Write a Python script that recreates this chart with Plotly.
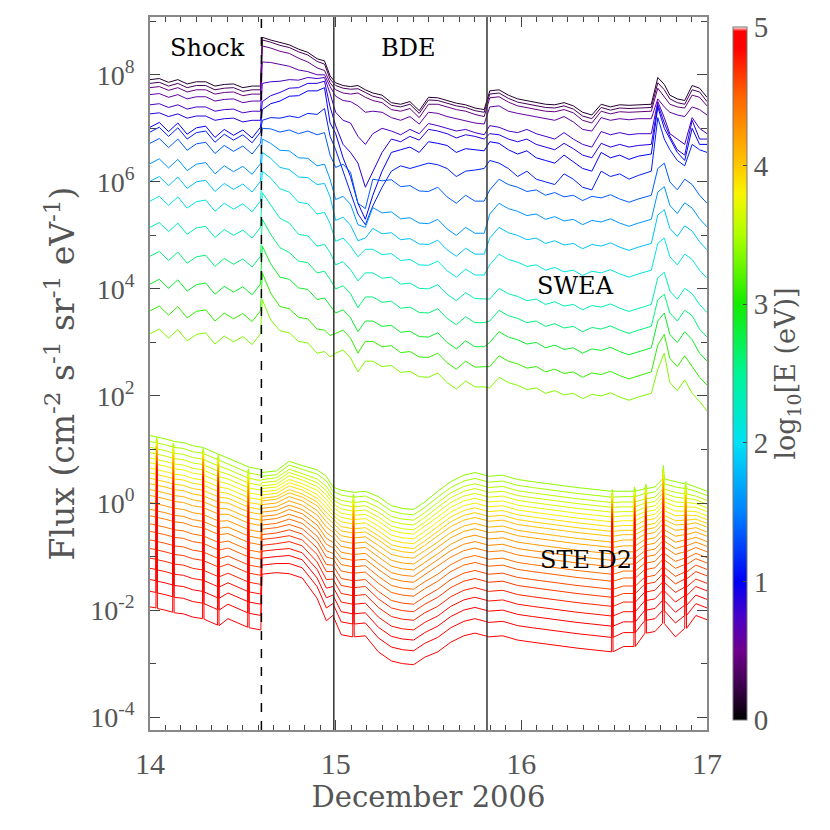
import plotly.graph_objects as go
from plotly.colors import sample_colorscale

# ---------------- SWEA (log10 flux) ----------------
swea_time = [14.00, 14.05, 14.10, 14.15, 14.20, 14.25, 14.30, 14.35, 14.40, 14.45, 14.50, 14.55, 14.595,
             14.605, 14.65, 14.70, 14.75, 14.80, 14.85, 14.90, 14.94, 14.97,
             15.00, 15.04, 15.08, 15.12, 15.16, 15.20, 15.25, 15.30, 15.35, 15.40, 15.45, 15.50, 15.55, 15.60, 15.65, 15.70, 15.75, 15.80,
             15.83, 15.88, 15.93, 15.98, 16.03, 16.08, 16.13, 16.18, 16.23, 16.28, 16.33, 16.38, 16.43, 16.48, 16.53, 16.58, 16.63, 16.70,
             16.735, 16.77, 16.80, 16.84, 16.88, 16.92, 16.96, 17.00]

swea_energy_log = [0.15, 0.30, 0.45, 0.60, 0.75, 0.88, 1.00, 1.12, 1.35, 1.60, 1.85, 2.10, 2.35, 2.60, 2.85, 3.10, 3.35]

swea_log_flux = [
    [7.91, 7.93, 7.86, 7.91, 7.83, 7.87, 7.87, 7.79, 7.82, 7.83, 7.76, 7.79, 7.79,
     8.70, 8.65, 8.60, 8.56, 8.48, 8.42, 8.30, 8.26, 7.98,
     7.85, 7.80, 7.78, 7.80, 7.72, 7.66, 7.62, 7.48, 7.45, 7.50, 7.33, 7.58, 7.57, 7.52, 7.47, 7.44, 7.38, 7.35,
     7.70, 7.72, 7.62, 7.55, 7.52, 7.48, 7.45, 7.44, 7.48, 7.42, 7.30, 7.25, 7.45, 7.40, 7.44, 7.43, 7.44, 7.45,
     7.95, 7.82, 7.62, 7.55, 7.52, 7.80, 7.75, 7.58],
    [7.84, 7.86, 7.79, 7.84, 7.76, 7.80, 7.80, 7.72, 7.75, 7.76, 7.69, 7.72, 7.72,
     8.65, 8.61, 8.55, 8.51, 8.43, 8.37, 8.25, 8.20, 7.92,
     7.80, 7.75, 7.73, 7.74, 7.67, 7.60, 7.56, 7.43, 7.40, 7.45, 7.28, 7.53, 7.52, 7.47, 7.42, 7.39, 7.33, 7.30,
     7.64, 7.66, 7.56, 7.49, 7.46, 7.42, 7.39, 7.38, 7.42, 7.36, 7.23, 7.18, 7.39, 7.34, 7.38, 7.37, 7.38, 7.39,
     7.85, 7.72, 7.55, 7.48, 7.45, 7.72, 7.68, 7.50],
    [7.76, 7.78, 7.71, 7.76, 7.68, 7.72, 7.72, 7.64, 7.67, 7.68, 7.61, 7.64, 7.64,
     8.54, 8.50, 8.44, 8.40, 8.31, 8.24, 8.13, 8.08, 7.85,
     7.72, 7.66, 7.64, 7.66, 7.58, 7.52, 7.48, 7.35, 7.32, 7.37, 7.20, 7.45, 7.45, 7.40, 7.35, 7.32, 7.26, 7.22,
     7.57, 7.59, 7.49, 7.42, 7.39, 7.35, 7.32, 7.31, 7.35, 7.29, 7.15, 7.10, 7.32, 7.27, 7.31, 7.30, 7.31, 7.32,
     7.75, 7.60, 7.45, 7.40, 7.38, 7.62, 7.58, 7.42],
    [7.63, 7.65, 7.58, 7.63, 7.55, 7.59, 7.59, 7.51, 7.54, 7.55, 7.48, 7.51, 7.51,
     8.24, 8.23, 8.19, 8.16, 8.09, 8.06, 8.00, 8.00, 7.78,
     7.60, 7.52, 7.50, 7.42, 7.30, 7.32, 7.30, 7.20, 7.15, 7.22, 7.08, 7.30, 7.28, 7.22, 7.18, 7.15, 7.10, 7.08,
     7.40, 7.42, 7.32, 7.28, 7.25, 7.22, 7.18, 7.15, 7.22, 7.12, 6.98, 6.95, 7.20, 7.15, 7.18, 7.16, 7.18, 7.18,
     7.55, 7.40, 7.30, 7.25, 7.22, 7.40, 7.35, 7.25],
    [7.44, 7.46, 7.39, 7.44, 7.36, 7.40, 7.40, 7.32, 7.35, 7.36, 7.29, 7.32, 7.32,
     7.84, 7.87, 7.88, 7.91, 7.90, 7.95, 7.93, 7.95, 7.65,
     7.30, 7.15, 7.10, 6.85, 6.70, 6.90, 7.00, 6.95, 6.88, 6.98, 6.90, 7.09, 7.05, 7.00, 6.95, 6.98, 6.92, 6.88,
     7.05, 7.02, 6.95, 6.92, 6.98, 6.90, 6.85, 6.80, 6.92, 6.80, 6.70, 6.65, 6.94, 6.88, 6.92, 6.88, 6.90, 6.90,
     7.50, 7.20, 6.90, 6.80, 6.70, 7.20, 7.00, 6.90],
    [7.27, 7.29, 7.22, 7.27, 7.19, 7.23, 7.23, 7.15, 7.18, 7.19, 7.12, 7.15, 7.15,
     7.50, 7.61, 7.67, 7.75, 7.76, 7.84, 7.84, 7.88, 7.40,
     7.05, 6.70, 6.55, 6.35, 5.90, 6.20, 6.55, 6.80, 6.75, 6.85, 6.78, 6.98, 6.95, 6.90, 6.82, 6.88, 6.85, 6.80,
     6.90, 6.88, 6.80, 6.75, 6.80, 6.70, 6.65, 6.60, 6.72, 6.62, 6.50, 6.45, 6.72, 6.65, 6.70, 6.65, 6.68, 6.70,
     7.45, 7.10, 6.85, 6.60, 6.50, 7.15, 6.80, 6.80],
    [7.02, 7.11, 6.94, 7.10, 6.89, 7.01, 7.04, 6.83, 6.98, 6.87, 6.97, 6.82, 7.02,
     7.35, 7.46, 7.51, 7.60, 7.61, 7.70, 7.70, 7.76, 7.10,
     6.90, 6.45, 6.10, 5.60, 5.30, 5.75, 6.20, 6.55, 6.60, 6.65, 6.55, 6.75, 6.72, 6.68, 6.55, 6.62, 6.60, 6.58,
     6.75, 6.72, 6.60, 6.52, 6.58, 6.45, 6.40, 6.35, 6.50, 6.38, 6.25, 6.20, 6.55, 6.45, 6.50, 6.42, 6.48, 6.52,
     7.40, 7.00, 6.80, 6.55, 6.40, 7.00, 6.70, 6.70],
    [6.93, 7.02, 6.85, 7.01, 6.80, 6.92, 6.95, 6.74, 6.89, 6.78, 6.88, 6.73, 6.93,
     7.15, 7.20, 7.19, 7.23, 7.20, 7.28, 7.26, 7.37, 6.85,
     6.60, 6.20, 5.80, 5.40, 5.20, 5.55, 5.90, 6.20, 6.30, 6.25, 6.30, 6.35, 6.32, 6.25, 6.10, 6.20, 6.22, 6.25,
     6.40, 6.35, 6.25, 6.10, 6.20, 6.05, 6.00, 5.95, 6.15, 6.05, 5.90, 5.85, 6.20, 6.10, 6.15, 6.05, 6.12, 6.20,
     7.20, 6.80, 6.60, 6.40, 6.30, 6.70, 6.60, 6.55],
    [6.72, 6.81, 6.64, 6.80, 6.59, 6.71, 6.74, 6.53, 6.68, 6.57, 6.67, 6.52, 6.72,
     7.00, 6.99, 6.93, 6.97, 6.90, 6.95, 6.88, 6.92, 6.50,
     6.27, 6.33, 6.18, 5.60, 5.50, 6.05, 6.02, 6.04, 5.91, 5.93, 5.83, 5.82, 5.90, 5.72, 5.60, 5.75, 5.64, 5.64,
     5.85, 6.05, 5.95, 5.90, 5.82, 5.85, 5.75, 5.80, 5.72, 5.75, 5.65, 5.73, 5.70, 5.76, 5.68, 5.62, 5.68, 5.75,
     6.25, 6.35, 6.00, 5.85, 6.05, 5.95, 5.75, 5.60],
    [6.34, 6.43, 6.26, 6.42, 6.21, 6.33, 6.36, 6.15, 6.30, 6.19, 6.29, 6.14, 6.34,
     6.80, 6.72, 6.59, 6.58, 6.45, 6.44, 6.30, 6.33, 6.05,
     5.67, 5.73, 5.58, 5.20, 5.15, 5.52, 5.42, 5.44, 5.31, 5.33, 5.23, 5.22, 5.30, 5.12, 5.00, 5.15, 5.04, 5.04,
     5.40, 5.60, 5.50, 5.45, 5.37, 5.40, 5.30, 5.35, 5.27, 5.30, 5.20, 5.28, 5.25, 5.31, 5.23, 5.17, 5.23, 5.30,
     5.81, 5.91, 5.56, 5.41, 5.61, 5.51, 5.31, 5.16],
    [6.01, 6.10, 5.93, 6.09, 5.88, 6.00, 6.03, 5.82, 5.97, 5.86, 5.96, 5.81, 6.01,
     6.55, 6.44, 6.27, 6.23, 6.09, 6.08, 5.95, 5.97, 5.72,
     5.28, 5.34, 5.19, 4.90, 4.95, 5.13, 5.03, 5.05, 4.92, 4.94, 4.84, 4.83, 4.91, 4.73, 4.61, 4.76, 4.65, 4.65,
     4.95, 5.15, 5.05, 5.00, 4.92, 4.95, 4.85, 4.90, 4.82, 4.85, 4.75, 4.83, 4.80, 4.86, 4.78, 4.72, 4.78, 4.85,
     5.38, 5.48, 5.13, 4.98, 5.18, 5.08, 4.88, 4.73],
    [5.64, 5.73, 5.56, 5.72, 5.51, 5.63, 5.66, 5.45, 5.60, 5.49, 5.59, 5.44, 5.64,
     6.20, 6.07, 5.87, 5.81, 5.62, 5.59, 5.40, 5.43, 5.22,
     4.89, 4.95, 4.80, 4.60, 4.74, 4.74, 4.64, 4.66, 4.53, 4.55, 4.45, 4.44, 4.52, 4.34, 4.22, 4.37, 4.26, 4.26,
     4.45, 4.65, 4.55, 4.50, 4.42, 4.45, 4.35, 4.40, 4.32, 4.35, 4.25, 4.33, 4.30, 4.36, 4.28, 4.22, 4.28, 4.35,
     4.85, 4.95, 4.60, 4.45, 4.65, 4.55, 4.35, 4.20],
    [5.15, 5.24, 5.07, 5.23, 5.02, 5.14, 5.17, 4.96, 5.11, 5.00, 5.10, 4.95, 5.15,
     5.80, 5.57, 5.32, 5.23, 5.02, 4.99, 4.80, 4.83, 4.68,
     4.45, 4.51, 4.36, 4.15, 4.30, 4.30, 4.20, 4.22, 4.09, 4.11, 4.01, 4.00, 4.08, 3.90, 3.78, 3.93, 3.82, 3.82,
     3.81, 4.01, 3.91, 3.86, 3.78, 3.81, 3.71, 3.76, 3.68, 3.71, 3.61, 3.69, 3.66, 3.72, 3.64, 3.58, 3.64, 3.71,
     4.21, 4.31, 3.96, 3.81, 4.01, 3.91, 3.71, 3.56],
    [4.61, 4.70, 4.53, 4.69, 4.48, 4.60, 4.63, 4.42, 4.57, 4.46, 4.56, 4.41, 4.61,
     5.30, 5.02, 4.77, 4.68, 4.52, 4.49, 4.30, 4.33, 4.18,
     4.00, 4.06, 3.91, 3.65, 3.85, 3.85, 3.75, 3.77, 3.64, 3.66, 3.56, 3.55, 3.63, 3.45, 3.33, 3.48, 3.37, 3.37,
     3.40, 3.60, 3.50, 3.45, 3.37, 3.40, 3.30, 3.35, 3.27, 3.30, 3.20, 3.28, 3.25, 3.31, 3.23, 3.17, 3.23, 3.30,
     3.80, 3.90, 3.55, 3.40, 3.60, 3.50, 3.25, 3.10],
    [4.09, 4.18, 4.01, 4.17, 3.96, 4.08, 4.11, 3.90, 4.05, 3.94, 4.04, 3.89, 4.09,
     4.80, 4.47, 4.22, 4.18, 4.02, 3.99, 3.80, 3.83, 3.68,
     3.55, 3.61, 3.46, 3.20, 3.40, 3.40, 3.30, 3.32, 3.19, 3.21, 3.11, 3.10, 3.18, 3.00, 2.88, 3.03, 2.92, 2.92,
     3.00, 3.20, 3.10, 3.05, 2.97, 3.00, 2.90, 2.95, 2.87, 2.90, 2.80, 2.88, 2.85, 2.91, 2.83, 2.77, 2.83, 2.90,
     3.40, 3.55, 3.15, 3.00, 3.20, 3.05, 2.80, 2.65],
    [3.59, 3.68, 3.51, 3.67, 3.46, 3.58, 3.61, 3.40, 3.55, 3.44, 3.54, 3.39, 3.59,
     4.30, 3.92, 3.67, 3.63, 3.47, 3.44, 3.25, 3.23, 3.13,
     3.17, 3.23, 3.08, 2.80, 3.02, 3.02, 2.92, 2.94, 2.81, 2.83, 2.73, 2.72, 2.80, 2.62, 2.50, 2.65, 2.54, 2.54,
     2.55, 2.75, 2.65, 2.60, 2.52, 2.55, 2.45, 2.50, 2.42, 2.45, 2.35, 2.43, 2.40, 2.46, 2.38, 2.32, 2.38, 2.45,
     2.95, 3.15, 2.70, 2.55, 2.75, 2.55, 2.35, 2.20],
    [3.16, 3.25, 3.08, 3.24, 3.03, 3.15, 3.18, 2.97, 3.12, 3.01, 3.11, 2.96, 3.16,
     3.80, 3.42, 3.22, 3.18, 3.02, 2.99, 2.80, 2.83, 2.73,
     2.80, 2.86, 2.71, 2.45, 2.65, 2.65, 2.55, 2.57, 2.44, 2.46, 2.36, 2.35, 2.43, 2.25, 2.13, 2.28, 2.17, 2.17,
     2.15, 2.35, 2.25, 2.20, 2.12, 2.15, 2.05, 2.10, 2.02, 2.05, 1.95, 2.03, 2.00, 2.06, 1.98, 1.92, 1.98, 2.05,
     2.50, 2.80, 2.25, 2.10, 2.30, 2.05, 1.90, 1.72],
]

# ---------------- STE D2 (log10 flux, one row per time) ----------------
ste_time = [14.000, 14.032, 14.036, 14.040, 14.080, 14.122, 14.126, 14.130, 14.180, 14.230, 14.283, 14.287,
            14.291, 14.330, 14.364, 14.368, 14.372, 14.420, 14.470, 14.526, 14.530, 14.534, 14.597,
            14.603, 14.680, 14.750, 14.820, 14.900, 14.950, 14.985,
            15.030, 15.092, 15.096, 15.100, 15.160, 15.230, 15.300, 15.360, 15.420, 15.480, 15.550, 15.620,
            15.690, 15.750, 15.805,
            15.825, 15.900, 15.980, 16.060, 16.140, 16.220, 16.300, 16.380, 16.486, 16.490, 16.494, 16.550,
            16.606, 16.610, 16.614, 16.666, 16.670, 16.674, 16.720,
            16.760, 16.765, 16.770, 16.830, 16.880, 16.885, 16.890, 16.940, 17.000]

ste_energy_log = [3.40, 3.47, 3.54, 3.61, 3.68, 3.75, 3.82, 3.89, 3.96, 4.03, 4.10, 4.17,
                  4.24, 4.31, 4.38, 4.45, 4.52, 4.59, 4.66, 4.73, 4.80, 4.86, 4.91, 4.96]

ste_log_flux_by_time = [
    [1.26, 1.15, 1.04, 0.94, 0.84, 0.75, 0.65, 0.56, 0.46, 0.36, 0.25, 0.14, 0.01, -0.12, -0.24, -0.39, -0.53, -0.69, -0.85, -1.03, -1.22, -1.43, -1.65, -1.94],
    [1.24, 1.13, 1.02, 0.92, 0.82, 0.73, 0.63, 0.54, 0.44, 0.34, 0.23, 0.12, -0.01, -0.14, -0.26, -0.41, -0.55, -0.71, -0.87, -1.05, -1.24, -1.45, -1.67, -1.96],
    [1.24, 1.22, 1.19, 1.17, 1.15, 1.13, 1.11, 1.09, 1.06, 1.04, 1.02, 0.99, 0.97, 0.94, 0.91, 0.88, 0.85, 0.81, 0.78, 0.74, 0.70, 0.65, 0.60, 0.54],
    [1.23, 1.12, 1.01, 0.91, 0.81, 0.72, 0.62, 0.53, 0.43, 0.33, 0.22, 0.11, -0.02, -0.15, -0.27, -0.42, -0.56, -0.72, -0.88, -1.06, -1.25, -1.46, -1.68, -1.97],
    [1.20, 1.09, 0.98, 0.88, 0.78, 0.69, 0.59, 0.50, 0.40, 0.30, 0.19, 0.08, -0.05, -0.18, -0.30, -0.45, -0.59, -0.75, -0.91, -1.09, -1.28, -1.49, -1.71, -2.00],
    [1.16, 1.05, 0.94, 0.84, 0.74, 0.65, 0.55, 0.46, 0.36, 0.26, 0.15, 0.04, -0.09, -0.22, -0.34, -0.49, -0.63, -0.79, -0.95, -1.13, -1.32, -1.53, -1.75, -2.04],
    [1.16, 1.12, 1.09, 1.06, 1.03, 1.00, 0.97, 0.94, 0.91, 0.88, 0.84, 0.81, 0.77, 0.73, 0.69, 0.64, 0.60, 0.55, 0.50, 0.44, 0.38, 0.32, 0.25, 0.16],
    [1.15, 1.04, 0.93, 0.83, 0.73, 0.64, 0.54, 0.45, 0.35, 0.25, 0.14, 0.03, -0.10, -0.23, -0.35, -0.50, -0.64, -0.80, -0.96, -1.14, -1.33, -1.54, -1.76, -2.05],
    [1.13, 1.02, 0.91, 0.81, 0.71, 0.62, 0.52, 0.43, 0.33, 0.23, 0.12, 0.01, -0.12, -0.25, -0.37, -0.52, -0.66, -0.82, -0.98, -1.16, -1.35, -1.56, -1.78, -2.07],
    [1.07, 0.96, 0.85, 0.75, 0.65, 0.56, 0.46, 0.37, 0.27, 0.17, 0.06, -0.05, -0.18, -0.31, -0.43, -0.58, -0.72, -0.88, -1.04, -1.22, -1.41, -1.62, -1.84, -2.13],
    [1.04, 0.93, 0.82, 0.72, 0.62, 0.53, 0.43, 0.34, 0.24, 0.14, 0.03, -0.08, -0.21, -0.34, -0.46, -0.61, -0.75, -0.91, -1.07, -1.25, -1.44, -1.65, -1.87, -2.16],
    [1.04, 1.02, 0.99, 0.97, 0.95, 0.93, 0.91, 0.89, 0.86, 0.84, 0.82, 0.79, 0.77, 0.74, 0.71, 0.68, 0.65, 0.61, 0.58, 0.54, 0.50, 0.45, 0.40, 0.34],
    [1.03, 0.92, 0.81, 0.71, 0.61, 0.52, 0.42, 0.33, 0.23, 0.13, 0.02, -0.09, -0.22, -0.35, -0.47, -0.62, -0.76, -0.92, -1.08, -1.26, -1.45, -1.66, -1.88, -2.17],
    [0.97, 0.86, 0.75, 0.65, 0.55, 0.46, 0.36, 0.27, 0.17, 0.07, -0.04, -0.15, -0.28, -0.41, -0.53, -0.68, -0.82, -0.98, -1.14, -1.32, -1.51, -1.72, -1.94, -2.23],
    [0.92, 0.81, 0.70, 0.60, 0.50, 0.41, 0.31, 0.22, 0.12, 0.02, -0.09, -0.20, -0.33, -0.46, -0.58, -0.73, -0.87, -1.03, -1.19, -1.37, -1.56, -1.77, -1.99, -2.28],
    [0.92, 0.90, 0.87, 0.85, 0.83, 0.81, 0.79, 0.77, 0.74, 0.72, 0.70, 0.67, 0.65, 0.62, 0.59, 0.56, 0.53, 0.49, 0.46, 0.42, 0.38, 0.33, 0.28, 0.22],
    [0.91, 0.80, 0.69, 0.59, 0.49, 0.40, 0.30, 0.21, 0.11, 0.01, -0.10, -0.21, -0.34, -0.47, -0.59, -0.74, -0.88, -1.04, -1.20, -1.38, -1.57, -1.78, -2.00, -2.29],
    [0.84, 0.73, 0.63, 0.54, 0.45, 0.36, 0.27, 0.18, 0.09, 0.00, -0.11, -0.21, -0.33, -0.45, -0.57, -0.71, -0.84, -0.99, -1.14, -1.31, -1.49, -1.68, -1.89, -2.16],
    [0.76, 0.65, 0.55, 0.46, 0.37, 0.28, 0.19, 0.10, 0.01, -0.08, -0.19, -0.29, -0.41, -0.53, -0.65, -0.79, -0.92, -1.07, -1.22, -1.39, -1.57, -1.76, -1.97, -2.24],
    [0.68, 0.57, 0.47, 0.38, 0.29, 0.20, 0.11, 0.02, -0.07, -0.16, -0.27, -0.37, -0.49, -0.61, -0.73, -0.87, -1.00, -1.15, -1.30, -1.47, -1.65, -1.84, -2.05, -2.32],
    [0.68, 0.64, 0.61, 0.58, 0.55, 0.52, 0.49, 0.46, 0.43, 0.40, 0.36, 0.33, 0.29, 0.25, 0.21, 0.16, 0.12, 0.07, 0.02, -0.04, -0.10, -0.16, -0.23, -0.32],
    [0.67, 0.56, 0.46, 0.37, 0.28, 0.19, 0.10, 0.01, -0.08, -0.17, -0.28, -0.38, -0.50, -0.62, -0.74, -0.88, -1.01, -1.16, -1.31, -1.48, -1.66, -1.85, -2.06, -2.33],
    [0.63, 0.52, 0.42, 0.33, 0.24, 0.15, 0.06, -0.03, -0.12, -0.21, -0.32, -0.42, -0.54, -0.66, -0.78, -0.92, -1.05, -1.20, -1.35, -1.52, -1.70, -1.89, -2.10, -2.37],
    [0.57, 0.50, 0.44, 0.38, 0.32, 0.27, 0.21, 0.15, 0.09, 0.04, -0.03, -0.10, -0.17, -0.25, -0.32, -0.41, -0.49, -0.59, -0.68, -0.79, -0.90, -1.03, -1.16, -1.33],
    [0.60, 0.53, 0.47, 0.41, 0.35, 0.30, 0.24, 0.18, 0.12, 0.07, 0.00, -0.07, -0.14, -0.22, -0.29, -0.38, -0.46, -0.56, -0.65, -0.76, -0.87, -1.00, -1.13, -1.30],
    [0.78, 0.71, 0.63, 0.57, 0.51, 0.44, 0.38, 0.32, 0.25, 0.19, 0.12, 0.04, -0.04, -0.12, -0.21, -0.30, -0.40, -0.50, -0.61, -0.72, -0.85, -0.98, -1.13, -1.32],
    [0.70, 0.63, 0.55, 0.49, 0.43, 0.36, 0.30, 0.24, 0.17, 0.11, 0.04, -0.04, -0.12, -0.20, -0.29, -0.38, -0.48, -0.58, -0.69, -0.80, -0.93, -1.06, -1.21, -1.40],
    [0.62, 0.54, 0.45, 0.38, 0.31, 0.24, 0.16, 0.09, 0.02, -0.05, -0.14, -0.22, -0.32, -0.41, -0.51, -0.62, -0.72, -0.84, -0.96, -1.10, -1.24, -1.40, -1.56, -1.78],
    [0.50, 0.41, 0.31, 0.23, 0.15, 0.07, -0.01, -0.09, -0.18, -0.26, -0.35, -0.45, -0.55, -0.66, -0.77, -0.89, -1.01, -1.15, -1.28, -1.43, -1.59, -1.77, -1.96, -2.20],
    [0.30, 0.22, 0.13, 0.06, -0.01, -0.08, -0.16, -0.23, -0.30, -0.37, -0.46, -0.54, -0.64, -0.73, -0.83, -0.94, -1.04, -1.16, -1.28, -1.42, -1.56, -1.72, -1.88, -2.10],
    [0.24, 0.15, 0.05, -0.03, -0.11, -0.19, -0.27, -0.35, -0.44, -0.52, -0.61, -0.71, -0.81, -0.92, -1.03, -1.15, -1.27, -1.41, -1.54, -1.69, -1.85, -2.03, -2.22, -2.46],
    [0.20, 0.11, 0.01, -0.07, -0.15, -0.23, -0.31, -0.39, -0.48, -0.56, -0.65, -0.75, -0.85, -0.96, -1.07, -1.19, -1.31, -1.45, -1.58, -1.73, -1.89, -2.07, -2.26, -2.50],
    [0.20, 0.16, 0.13, 0.10, 0.07, 0.04, 0.01, -0.02, -0.05, -0.08, -0.12, -0.15, -0.19, -0.23, -0.27, -0.32, -0.36, -0.41, -0.46, -0.52, -0.58, -0.64, -0.71, -0.80],
    [0.20, 0.11, 0.01, -0.07, -0.15, -0.23, -0.31, -0.39, -0.48, -0.56, -0.65, -0.75, -0.85, -0.96, -1.07, -1.19, -1.31, -1.45, -1.58, -1.73, -1.89, -2.07, -2.26, -2.50],
    [0.22, 0.13, 0.03, -0.05, -0.13, -0.21, -0.29, -0.37, -0.46, -0.54, -0.63, -0.73, -0.83, -0.94, -1.05, -1.17, -1.29, -1.43, -1.56, -1.71, -1.87, -2.05, -2.24, -2.48],
    [0.12, 0.02, -0.08, -0.17, -0.26, -0.34, -0.43, -0.52, -0.61, -0.69, -0.79, -0.90, -1.01, -1.13, -1.24, -1.37, -1.50, -1.65, -1.79, -1.95, -2.13, -2.32, -2.52, -2.78],
    [-0.05, -0.15, -0.25, -0.34, -0.43, -0.51, -0.60, -0.69, -0.78, -0.86, -0.96, -1.07, -1.18, -1.30, -1.41, -1.54, -1.67, -1.82, -1.96, -2.12, -2.30, -2.49, -2.69, -2.95],
    [-0.10, -0.20, -0.30, -0.39, -0.48, -0.56, -0.65, -0.74, -0.83, -0.91, -1.01, -1.12, -1.23, -1.35, -1.46, -1.59, -1.72, -1.87, -2.01, -2.17, -2.35, -2.54, -2.74, -3.00],
    [-0.12, -0.22, -0.32, -0.41, -0.50, -0.58, -0.67, -0.76, -0.85, -0.93, -1.03, -1.14, -1.25, -1.37, -1.48, -1.61, -1.74, -1.89, -2.03, -2.19, -2.37, -2.56, -2.76, -3.02],
    [0.02, -0.08, -0.18, -0.27, -0.36, -0.44, -0.53, -0.62, -0.71, -0.79, -0.89, -1.00, -1.11, -1.23, -1.34, -1.47, -1.60, -1.75, -1.89, -2.05, -2.23, -2.42, -2.62, -2.88],
    [0.22, 0.11, 0.01, -0.08, -0.17, -0.26, -0.35, -0.44, -0.53, -0.62, -0.73, -0.83, -0.95, -1.07, -1.19, -1.33, -1.46, -1.61, -1.76, -1.93, -2.11, -2.30, -2.51, -2.78],
    [0.40, 0.29, 0.19, 0.10, 0.01, -0.08, -0.17, -0.26, -0.35, -0.44, -0.55, -0.65, -0.77, -0.89, -1.01, -1.15, -1.28, -1.43, -1.58, -1.75, -1.93, -2.12, -2.33, -2.60],
    [0.52, 0.41, 0.31, 0.22, 0.13, 0.04, -0.05, -0.14, -0.23, -0.32, -0.43, -0.53, -0.65, -0.77, -0.89, -1.03, -1.16, -1.31, -1.46, -1.63, -1.81, -2.00, -2.21, -2.48],
    [0.57, 0.46, 0.36, 0.27, 0.18, 0.09, 0.00, -0.09, -0.18, -0.27, -0.38, -0.48, -0.60, -0.72, -0.84, -0.98, -1.11, -1.26, -1.41, -1.58, -1.76, -1.95, -2.16, -2.43],
    [0.52, 0.41, 0.31, 0.22, 0.13, 0.04, -0.05, -0.14, -0.23, -0.32, -0.43, -0.53, -0.65, -0.77, -0.89, -1.03, -1.16, -1.31, -1.46, -1.63, -1.81, -2.00, -2.21, -2.48],
    [0.50, 0.39, 0.29, 0.20, 0.11, 0.02, -0.07, -0.16, -0.25, -0.34, -0.45, -0.55, -0.67, -0.79, -0.91, -1.05, -1.18, -1.33, -1.48, -1.65, -1.83, -2.02, -2.23, -2.50],
    [0.52, 0.41, 0.31, 0.22, 0.13, 0.04, -0.05, -0.14, -0.23, -0.32, -0.43, -0.53, -0.65, -0.77, -0.89, -1.03, -1.16, -1.31, -1.46, -1.63, -1.81, -2.00, -2.21, -2.48],
    [0.44, 0.33, 0.23, 0.14, 0.05, -0.04, -0.13, -0.22, -0.31, -0.40, -0.51, -0.61, -0.73, -0.85, -0.97, -1.11, -1.24, -1.39, -1.54, -1.71, -1.89, -2.08, -2.29, -2.56],
    [0.40, 0.29, 0.19, 0.10, 0.01, -0.08, -0.17, -0.26, -0.35, -0.44, -0.55, -0.65, -0.77, -0.89, -1.01, -1.15, -1.28, -1.43, -1.58, -1.75, -1.93, -2.12, -2.33, -2.60],
    [0.36, 0.25, 0.15, 0.06, -0.03, -0.12, -0.21, -0.30, -0.39, -0.48, -0.59, -0.69, -0.81, -0.93, -1.05, -1.19, -1.32, -1.47, -1.62, -1.79, -1.97, -2.16, -2.37, -2.64],
    [0.33, 0.22, 0.12, 0.03, -0.06, -0.15, -0.24, -0.33, -0.42, -0.51, -0.62, -0.72, -0.84, -0.96, -1.08, -1.22, -1.35, -1.50, -1.65, -1.82, -2.00, -2.19, -2.40, -2.67],
    [0.29, 0.18, 0.08, -0.01, -0.10, -0.19, -0.28, -0.37, -0.46, -0.55, -0.66, -0.76, -0.88, -1.00, -1.12, -1.26, -1.39, -1.54, -1.69, -1.86, -2.04, -2.23, -2.44, -2.71],
    [0.26, 0.15, 0.05, -0.04, -0.13, -0.22, -0.31, -0.40, -0.49, -0.58, -0.69, -0.79, -0.91, -1.03, -1.15, -1.29, -1.42, -1.57, -1.72, -1.89, -2.07, -2.26, -2.47, -2.74],
    [0.22, 0.11, 0.01, -0.08, -0.17, -0.26, -0.35, -0.44, -0.53, -0.62, -0.73, -0.83, -0.95, -1.07, -1.19, -1.33, -1.46, -1.61, -1.76, -1.93, -2.11, -2.30, -2.51, -2.78],
    [0.25, 0.23, 0.20, 0.18, 0.16, 0.14, 0.12, 0.10, 0.07, 0.05, 0.03, 0.00, -0.02, -0.05, -0.08, -0.11, -0.14, -0.18, -0.21, -0.25, -0.29, -0.34, -0.39, -0.45],
    [0.22, 0.11, 0.01, -0.08, -0.17, -0.26, -0.35, -0.44, -0.53, -0.62, -0.73, -0.83, -0.95, -1.07, -1.19, -1.33, -1.46, -1.61, -1.76, -1.93, -2.11, -2.30, -2.51, -2.78],
    [0.22, 0.12, 0.02, -0.07, -0.16, -0.24, -0.33, -0.42, -0.51, -0.59, -0.69, -0.80, -0.91, -1.03, -1.14, -1.27, -1.40, -1.55, -1.69, -1.85, -2.03, -2.22, -2.42, -2.68],
    [0.22, 0.12, 0.02, -0.07, -0.16, -0.24, -0.33, -0.42, -0.51, -0.59, -0.69, -0.80, -0.91, -1.03, -1.14, -1.27, -1.40, -1.55, -1.69, -1.85, -2.03, -2.22, -2.42, -2.68],
    [0.30, 0.28, 0.25, 0.23, 0.21, 0.19, 0.17, 0.15, 0.12, 0.10, 0.08, 0.05, 0.03, 0.00, -0.03, -0.06, -0.09, -0.13, -0.16, -0.20, -0.24, -0.29, -0.34, -0.40],
    [0.22, 0.12, 0.02, -0.07, -0.16, -0.24, -0.33, -0.42, -0.51, -0.59, -0.69, -0.80, -0.91, -1.03, -1.14, -1.27, -1.40, -1.55, -1.69, -1.85, -2.03, -2.22, -2.42, -2.68],
    [0.27, 0.18, 0.08, 0.00, -0.08, -0.16, -0.24, -0.32, -0.41, -0.49, -0.58, -0.68, -0.78, -0.89, -1.00, -1.12, -1.24, -1.38, -1.51, -1.66, -1.82, -2.00, -2.19, -2.43],
    [0.35, 0.33, 0.30, 0.28, 0.26, 0.24, 0.22, 0.20, 0.17, 0.15, 0.13, 0.10, 0.08, 0.05, 0.02, -0.01, -0.04, -0.08, -0.11, -0.15, -0.19, -0.24, -0.29, -0.35],
    [0.27, 0.18, 0.08, 0.00, -0.08, -0.16, -0.24, -0.32, -0.41, -0.49, -0.58, -0.68, -0.78, -0.89, -1.00, -1.12, -1.24, -1.38, -1.51, -1.66, -1.82, -2.00, -2.19, -2.43],
    [0.30, 0.21, 0.11, 0.03, -0.05, -0.13, -0.21, -0.29, -0.38, -0.46, -0.55, -0.65, -0.75, -0.86, -0.97, -1.09, -1.21, -1.35, -1.48, -1.63, -1.79, -1.97, -2.16, -2.40],
    [0.45, 0.36, 0.26, 0.18, 0.10, 0.02, -0.06, -0.14, -0.23, -0.31, -0.40, -0.50, -0.60, -0.71, -0.82, -0.94, -1.06, -1.20, -1.33, -1.48, -1.64, -1.82, -2.01, -2.25],
    [0.70, 0.66, 0.63, 0.60, 0.57, 0.54, 0.51, 0.48, 0.45, 0.42, 0.38, 0.35, 0.31, 0.27, 0.23, 0.18, 0.14, 0.09, 0.04, -0.02, -0.08, -0.14, -0.21, -0.30],
    [0.45, 0.36, 0.26, 0.18, 0.10, 0.02, -0.06, -0.14, -0.23, -0.31, -0.40, -0.50, -0.60, -0.71, -0.82, -0.94, -1.06, -1.20, -1.33, -1.48, -1.64, -1.82, -2.01, -2.25],
    [0.40, 0.30, 0.20, 0.11, 0.02, -0.06, -0.15, -0.24, -0.33, -0.41, -0.51, -0.62, -0.73, -0.85, -0.96, -1.09, -1.22, -1.37, -1.51, -1.67, -1.85, -2.04, -2.24, -2.50],
    [0.36, 0.27, 0.17, 0.09, 0.01, -0.07, -0.15, -0.23, -0.32, -0.40, -0.49, -0.59, -0.69, -0.80, -0.91, -1.03, -1.15, -1.29, -1.42, -1.57, -1.73, -1.91, -2.10, -2.34],
    [0.40, 0.36, 0.33, 0.30, 0.27, 0.24, 0.21, 0.18, 0.15, 0.12, 0.08, 0.05, 0.01, -0.03, -0.07, -0.12, -0.16, -0.21, -0.26, -0.32, -0.38, -0.44, -0.51, -0.60],
    [0.36, 0.27, 0.17, 0.09, 0.01, -0.07, -0.15, -0.23, -0.32, -0.40, -0.49, -0.59, -0.69, -0.80, -0.91, -1.03, -1.15, -1.29, -1.42, -1.57, -1.73, -1.91, -2.10, -2.34],
    [0.30, 0.22, 0.13, 0.06, -0.01, -0.08, -0.16, -0.23, -0.30, -0.37, -0.46, -0.54, -0.64, -0.73, -0.83, -0.94, -1.04, -1.16, -1.28, -1.42, -1.56, -1.72, -1.88, -2.10],
    [0.22, 0.14, 0.05, -0.02, -0.09, -0.16, -0.24, -0.31, -0.38, -0.45, -0.54, -0.62, -0.72, -0.81, -0.91, -1.02, -1.12, -1.24, -1.36, -1.50, -1.64, -1.80, -1.96, -2.18],
]

# event boundaries (days of December 2006)
shock_time = 14.60
bde_start = 14.99
bde_end = 15.815

# axis ticks
y_tick_exponents = [-4, -2, 0, 2, 4, 6, 8]
y_minor_exponents = [-3, -1, 1, 3, 5, 7, 9]
x_tick_values = [14, 15, 16, 17]
cbar_ticks = [0, 1, 2, 3, 4, 5]

# ---------------- colour scale (rainbow + white) ----------------
rainbow = [[0.00, 'rgb(0,0,0)'], [0.05, 'rgb(62,0,78)'], [0.10, 'rgb(112,0,142)'],
           [0.15, 'rgb(72,0,200)'], [0.20, 'rgb(0,0,245)'], [0.30, 'rgb(0,130,255)'],
           [0.40, 'rgb(0,225,245)'], [0.50, 'rgb(0,245,150)'], [0.60, 'rgb(20,235,0)'],
           [0.70, 'rgb(175,255,0)'], [0.76, 'rgb(250,245,0)'], [0.80, 'rgb(255,200,0)'],
           [0.90, 'rgb(255,100,0)'], [0.97, 'rgb(255,0,0)'], [0.994, 'rgb(255,0,0)'],
           [1.00, 'rgb(255,255,255)']]

E_MIN, E_MAX = 0.0, 5.0
GRAY = '#555555'
NUM_FONT = 'Liberation Serif'
TXT_FONT = 'DejaVu Serif'

fig = go.Figure()

swea_colors = sample_colorscale(rainbow, [(e - E_MIN) / (E_MAX - E_MIN) for e in swea_energy_log])
for e, col, vals in zip(swea_energy_log, swea_colors, swea_log_flux):
    fig.add_trace(go.Scatter(x=swea_time, y=[10 ** v for v in vals], mode='lines',
                             line=dict(color=col, width=1), name=f'SWEA {e}',
                             hoverinfo='skip', showlegend=False))

ste_lines = list(zip(*ste_log_flux_by_time))
ste_colors = sample_colorscale(rainbow, [(e - E_MIN) / (E_MAX - E_MIN) for e in ste_energy_log])
for e, col, vals in zip(ste_energy_log, ste_colors, ste_lines):
    fig.add_trace(go.Scatter(x=ste_time, y=[10 ** v for v in vals], mode='lines',
                             line=dict(color=col, width=1), name=f'STE {e}',
                             hoverinfo='skip', showlegend=False))

# colour bar carrier
fig.add_trace(go.Scatter(
    x=[15.5], y=[1.0], mode='markers', hoverinfo='skip', showlegend=False,
    marker=dict(size=0.1, opacity=0, color=[0], cmin=E_MIN, cmax=E_MAX, colorscale=rainbow,
                showscale=True,
                colorbar=dict(x=1.047, xanchor='left', xpad=0, y=0.5, yanchor='middle',
                              len=1.0, lenmode='fraction', thickness=14,
                              outlinewidth=1, outlinecolor='#777777',
                              tickvals=cbar_ticks, ticks='inside', ticklen=4, tickcolor='#444444',
                              tickfont=dict(family=NUM_FONT, size=29, color=GRAY),
                              title=dict(text='log<sub>10</sub>[E (eV)]', side='right',
                                         font=dict(family=TXT_FONT, size=27, color=GRAY))))))

# vertical event lines
fig.add_shape(type='line', xref='x', yref='paper', x0=shock_time, x1=shock_time, y0=0, y1=1,
              line=dict(color='black', width=1.5, dash='dash'), layer='above')
for xv in (bde_start, bde_end):
    fig.add_shape(type='line', xref='x', yref='paper', x0=xv, x1=xv, y0=0, y1=1,
                  line=dict(color='#333333', width=1.5), layer='above')

labels = [('Shock', 14.31, 8.5), ('BDE', 15.39, 8.5), ('SWEA', 16.29, 4.06), ('STE D2', 16.35, -1.06)]
for txt, xv, yv in labels:
    fig.add_annotation(x=xv, y=yv, xref='x', yref='y', text=txt, showarrow=False,
                       font=dict(family=TXT_FONT, size=24, color='black'))

fig.update_xaxes(range=[14, 17], tickvals=x_tick_values, ticks='inside', ticklen=10, tickwidth=1,
                 tickcolor='#444444', showline=True, linecolor='#888888', linewidth=1.5, mirror='ticks',
                 showgrid=False, zeroline=False, ticklabelstandoff=6,
                 tickfont=dict(family=NUM_FONT, size=30, color=GRAY),
                 minor=dict(dtick=1 / 12, tick0=14, ticks='inside', ticklen=5, tickcolor='#444444'),
                 title=dict(text='December 2006', font=dict(family=TXT_FONT, size=29, color=GRAY), standoff=4))

fig.update_yaxes(type='log', range=[-4.24, 9.08],
                 tickvals=[10 ** p for p in y_tick_exponents],
                 ticktext=[f'10<sup>{p}</sup>' for p in y_tick_exponents],
                 ticks='inside', ticklen=10, tickwidth=1, tickcolor='#444444',
                 showline=True, linecolor='#888888', linewidth=1.5, mirror='ticks',
                 showgrid=False, zeroline=False, ticklabelstandoff=8,
                 tickfont=dict(family=NUM_FONT, size=28, color=GRAY),
                 minor=dict(tickvals=[10 ** p for p in y_minor_exponents], ticks='inside', ticklen=6,
                            tickcolor='#444444'),
                 title=dict(text='Flux (cm<sup>-2</sup> s<sup>-1</sup> sr<sup>-1</sup> eV<sup>-1</sup>)',
                            font=dict(family=TXT_FONT, size=33, color=GRAY), standoff=6))

# the page adds an 8 px body margin, so the figure is 8 px smaller and the margins compensate
fig.update_layout(width=822, height=822, autosize=False,
                  margin=dict(l=142, r=123, t=7, b=100),
                  plot_bgcolor='white', paper_bgcolor='white', showlegend=False)

fig.write_html('out.html')
